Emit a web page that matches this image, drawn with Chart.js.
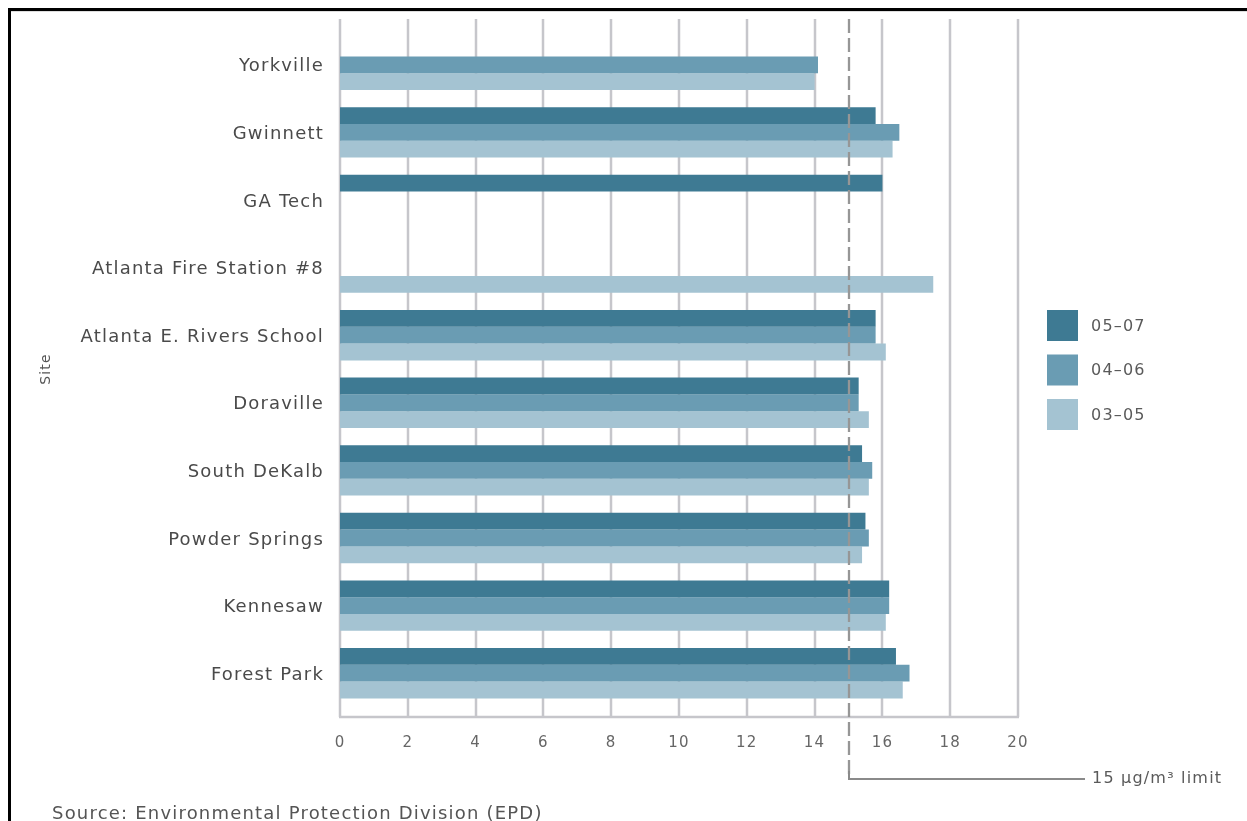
<!DOCTYPE html>
<html>
<head>
<meta charset="utf-8">
<title>PM2.5 annual design values by site</title>
<script src="https://cdn.jsdelivr.net/npm/chart.js@4/dist/chart.umd.min.js"></script>
<style>
  html, body { margin: 0; padding: 0; background: #fff; }
  #wrap { position: relative; width: 1247px; height: 821px; overflow: hidden; }
</style>
</head>
<body>
<div id="wrap"><canvas id="chart"></canvas></div>
<script>
// Monitoring sites (top to bottom)
const sites = [
  'Yorkville', 'Gwinnett', 'GA Tech', 'Atlanta Fire Station #8',
  'Atlanta E. Rivers School', 'Doraville', 'South DeKalb',
  'Powder Springs', 'Kennesaw', 'Forest Park'
];
// Three-year averaging periods
const periods = ['05\u201307', '04\u201306', '03\u201305'];
// Annual PM2.5 design values, µg/m³ (null = no data for that period)
const pm0507 = [null, 15.8, 16.0, null, 15.8, 15.3, 15.4, 15.5, 16.2, 16.4];
const pm0406 = [14.1, 16.5, null, null, 15.8, 15.3, 15.7, 15.6, 16.2, 16.8];
const pm0305 = [14.0, 16.3, null, 17.5, 16.1, 15.6, 15.6, 15.4, 16.1, 16.6];
// Value axis ticks
const xTicks = [0, 2, 4, 6, 8, 10, 12, 14, 16, 18, 20];
// Annual standard
const limitValue = 15;
const limitLabel = '15 \u00b5g/m\u00b3 limit';
const axisTitle = 'Site';
const sourceNote = 'Source: Environmental Protection Division (EPD)';

const colors = ['#3e7a93', '#6a9cb3', '#a4c3d2'];
const gridColor = '#c6c6cb';
const FONT = '"DejaVu Sans", sans-serif';
const SPACING = '1.2px';

const overlay = {
  id: 'overlay',
  beforeUpdate(chart) { chart.ctx.letterSpacing = SPACING; },
  beforeDraw(chart) {
    const ctx = chart.ctx;
    ctx.letterSpacing = SPACING;
    ctx.save();
    // page frame
    ctx.fillStyle = '#000';
    ctx.fillRect(8, 8, chart.width, 3);
    ctx.fillRect(8, 8, 3, chart.height);
    ctx.fillStyle = '#ddd';
    ctx.fillRect(11, 11, chart.width, 1);
    ctx.restore();
  },
  beforeDatasetsDraw(chart) {
    const ctx = chart.ctx;
    const x = chart.scales.x;
    const area = chart.chartArea;
    const top = area.top - 12, bottom = area.bottom + 10;
    ctx.save();
    ctx.strokeStyle = gridColor;
    ctx.lineWidth = 2.5;
    xTicks.forEach(v => {
      const px = Math.round(x.getPixelForValue(v));
      ctx.beginPath();
      ctx.moveTo(px, top);
      ctx.lineTo(px, bottom);
      ctx.stroke();
    });
    ctx.beginPath();
    ctx.moveTo(x.getPixelForValue(xTicks[0]) - 1, bottom);
    ctx.lineTo(x.getPixelForValue(xTicks[xTicks.length - 1]) + 1, bottom);
    ctx.stroke();
    ctx.restore();
  },
  afterDatasetsDraw(chart) {
    const ctx = chart.ctx;
    const x = chart.scales.x;
    const area = chart.chartArea;
    const lx = Math.round(x.getPixelForValue(limitValue));
    const top = area.top - 12;
    const elbowY = 779;
    ctx.save();
    // limit line: dashed through the plot, then an elbow out to its label
    ctx.strokeStyle = '#969696';
    ctx.lineWidth = 2.3;
    ctx.setLineDash([14, 5]);
    ctx.beginPath();
    ctx.moveTo(lx, top);
    ctx.lineTo(lx, elbowY);
    ctx.stroke();
    ctx.setLineDash([]);
    ctx.strokeStyle = '#8a8a8a';
    ctx.lineWidth = 2;
    ctx.beginPath();
    ctx.moveTo(lx, elbowY - 8);
    ctx.lineTo(lx, elbowY);
    ctx.lineTo(1085, elbowY);
    ctx.stroke();
    ctx.fillStyle = '#5a5a5a';
    ctx.font = '16px ' + FONT;
    ctx.textAlign = 'left';
    ctx.textBaseline = 'middle';
    ctx.fillText(limitLabel, 1092, elbowY);

    // legend
    const boxX = 1047, box = 31, rowGap = 44.5, firstY = 310;
    chart.data.datasets.forEach((ds, i) => {
      const y = firstY + i * rowGap;
      ctx.fillStyle = ds.backgroundColor;
      ctx.fillRect(boxX, y, box, box);
      ctx.fillStyle = '#5a5a5a';
      ctx.font = '16px ' + FONT;
      ctx.fillText(ds.label, 1091, y + box / 2 + 1);
    });

    // source note
    ctx.fillStyle = '#555';
    ctx.font = '18px ' + FONT;
    ctx.textBaseline = 'top';
    ctx.fillText(sourceNote, 52, 805);
    ctx.restore();
  }
};

new Chart(document.getElementById('chart'), {
  type: 'bar',
  data: {
    labels: sites,
    datasets: [
      { label: periods[0], data: pm0507, backgroundColor: colors[0] },
      { label: periods[1], data: pm0406, backgroundColor: colors[1] },
      { label: periods[2], data: pm0305, backgroundColor: colors[2] }
    ]
  },
  options: {
    indexAxis: 'y',
    responsive: true,
    maintainAspectRatio: false,
    animation: false,
    layout: { padding: { top: 31, right: 229, left: 0, bottom: 0 } },
    datasets: {
      bar: { categoryPercentage: 0.745, barPercentage: 1.0, borderWidth: 0 }
    },
    scales: {
      x: {
        min: 0, max: 20,
        grid: { display: false },
        border: { display: false },
        ticks: {
          stepSize: 2,
          padding: 19,
          color: '#666',
          font: { family: FONT, size: 15 }
        },
        afterFit(scale) { scale.height = 114; }
      },
      y: {
        grid: { display: false },
        border: { display: false },
        ticks: {
          padding: 8,
          labelOffset: 2,
          color: '#4a4a4a',
          font: { family: FONT, size: 18 }
        },
        title: {
          display: true,
          text: axisTitle,
          color: '#555',
          font: { family: FONT, size: 14 },
          padding: { top: 38, bottom: 0 }
        },
        afterFit(scale) { scale.width = 340; }
      }
    },
    plugins: {
      legend: { display: false },
      tooltip: { enabled: false }
    }
  },
  plugins: [overlay]
});
</script>
</body>
</html>
